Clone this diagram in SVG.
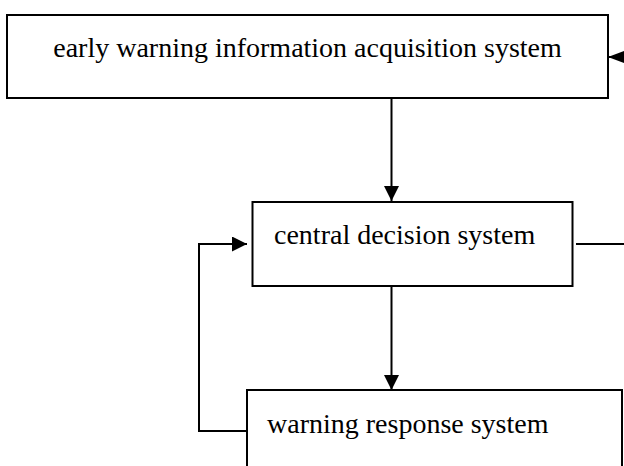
<svg xmlns="http://www.w3.org/2000/svg" width="624" height="466" viewBox="0 0 624 466">
  <style>
    .box { fill: #ffffff; stroke: #000000; stroke-width: 2; }
    .lbl { font-family: "Liberation Serif", "Times New Roman", serif; font-size: 28px; fill: #000000; }
    .conn { fill: none; stroke: #000000; stroke-width: 2; }
  </style>
  <defs>
    <marker id="arrow" markerUnits="userSpaceOnUse" markerWidth="15" markerHeight="15" refX="15" refY="7.5" orient="auto">
      <path d="M0,0 L15,7.5 L0,15 Z" fill="#000000"/>
    </marker>
    <marker id="arrowSmall" markerUnits="userSpaceOnUse" markerWidth="16" markerHeight="12" refX="16" refY="6" orient="auto">
      <path d="M0,0 L16,6 L0,12 Z" fill="#000000"/>
    </marker>
  </defs>
  <rect width="624" height="466" fill="#ffffff"/>

  <g id="connectors">
    <line class="conn" x1="391.5" y1="98" x2="391.5" y2="201" marker-end="url(#arrow)"/>
    <line class="conn" x1="391.5" y1="286" x2="391.5" y2="390" marker-end="url(#arrow)"/>
    <line class="conn" x1="576" y1="244" x2="630" y2="244"/>
    <line class="conn" x1="640" y1="57" x2="608" y2="57" marker-end="url(#arrowSmall)"/>
    <polyline class="conn" points="247,431 199,431 199,244 247,244" marker-end="url(#arrow)"/>
  </g>

  <g id="node-acquisition">
    <rect class="box" x="7" y="15" width="601" height="83"/>
    <text class="lbl" x="307.5" y="57" text-anchor="middle">early warning information acquisition system</text>
  </g>

  <g id="node-decision">
    <rect class="box" x="252.5" y="202" width="320" height="84"/>
    <text class="lbl" x="274" y="244">central decision system</text>
  </g>

  <g id="node-response">
    <rect class="box" x="247" y="390" width="375" height="90"/>
    <text class="lbl" x="267" y="433">warning response system</text>
  </g>
</svg>
